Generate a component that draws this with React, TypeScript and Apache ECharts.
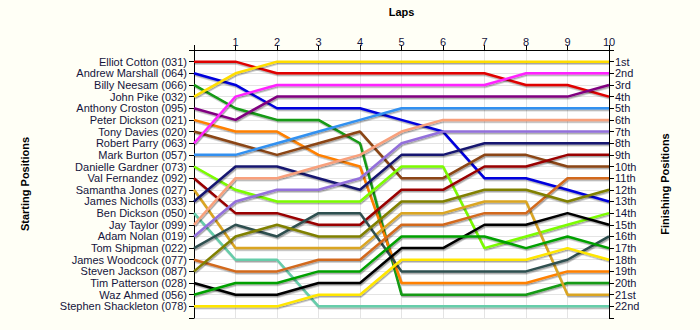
import React, { useEffect, useRef } from 'react';
import * as echarts from 'echarts';

const laps = [0, 1, 2, 3, 4, 5, 6, 7, 8, 9, 10];

const drivers = [
  'Elliot Cotton (031)',
  'Andrew Marshall (064)',
  'Billy Neesam (066)',
  'John Pike (032)',
  'Anthony Croston (095)',
  'Peter Dickson (021)',
  'Tony Davies (020)',
  'Robert Parry (063)',
  'Mark Burton (057)',
  'Danielle Gardner (073)',
  'Val Fernandez (092)',
  'Samantha Jones (027)',
  'James Nicholls (033)',
  'Ben Dickson (050)',
  'Jay Taylor (099)',
  'Adam Nolan (019)',
  'Tom Shipman (022)',
  'James Woodcock (077)',
  'Steven Jackson (087)',
  'Tim Patterson (028)',
  'Waz Ahmed (056)',
  'Stephen Shackleton (078)',
];

const finishLabels = [
  '1st', '2nd', '3rd', '4th', '5th', '6th', '7th', '8th', '9th', '10th', '11th',
  '12th', '13th', '14th', '15th', '16th', '17th', '18th', '19th', '20th', '21st', '22nd',
];

const colors = [
  '#e00000', '#0000dd', '#139a13', '#ffdd00', '#800080', '#ff8000', '#8b4513', '#ff22ff',
  '#3090f0', '#7cfc00', '#990000', '#daa520', '#191970', '#66cdaa', '#f8a07c', '#9370db',
  '#2f4f4f', '#d2691e', '#808000', '#000000', '#00a000', '#ffe600',
];

// positions at laps 0..10, one array per driver (starting order)
const elliotCotton = [1, 1, 2, 2, 2, 2, 2, 2, 3, 3, 4];
const andrewMarshall = [2, 3, 5, 5, 5, 6, 7, 11, 11, 12, 13];
const billyNeesam = [3, 5, 6, 6, 8, 21, 21, 21, 21, 20, 20];
const johnPike = [4, 2, 1, 1, 1, 1, 1, 1, 1, 1, 1];
const anthonyCroston = [5, 6, 4, 4, 4, 4, 4, 4, 4, 4, 3];
const peterDickson = [6, 7, 7, 9, 10, 20, 20, 20, 20, 19, 19];
const tonyDavies = [7, 8, 9, 8, 7, 11, 11, 9, 9, 10, 10];
const robertParry = [8, 4, 3, 3, 3, 3, 3, 3, 2, 2, 2];
const markBurton = [9, 9, 8, 7, 6, 5, 5, 5, 5, 5, 5];
const danielleGardner = [10, 12, 13, 13, 13, 10, 10, 17, 16, 15, 14];
const valFernandez = [11, 14, 14, 15, 15, 12, 12, 10, 10, 9, 9];
const samanthaJones = [12, 17, 17, 17, 17, 14, 14, 13, 13, 21, 21];
const jamesNicholls = [13, 10, 10, 11, 12, 9, 9, 8, 8, 8, 8];
const benDickson = [14, 18, 18, 22, 22, 22, 22, 22, 22, 22, 22];
const jayTaylor = [15, 11, 11, 10, 9, 7, 6, 6, 6, 6, 6];
const adamNolan = [16, 13, 12, 12, 11, 8, 7, 7, 7, 7, 7];
const tomShipman = [17, 15, 16, 14, 14, 19, 19, 19, 19, 18, 16];
const jamesWoodcock = [18, 19, 19, 18, 18, 15, 15, 14, 14, 11, 11];
const stevenJackson = [19, 16, 15, 16, 16, 13, 13, 12, 12, 13, 12];
const timPatterson = [20, 21, 21, 20, 20, 17, 17, 15, 15, 14, 15];
const wazAhmed = [21, 20, 20, 19, 19, 16, 16, 16, 17, 16, 17];
const stephenShackleton = [22, 22, 22, 21, 21, 18, 18, 18, 18, 17, 18];

const positions = [
  elliotCotton, andrewMarshall, billyNeesam, johnPike, anthonyCroston, peterDickson,
  tonyDavies, robertParry, markBurton, danielleGardner, valFernandez, samanthaJones,
  jamesNicholls, benDickson, jayTaylor, adamNolan, tomShipman, jamesWoodcock,
  stevenJackson, timPatterson, wazAhmed, stephenShackleton,
];

const textColor = '#14143c';
const font = 'Arial, "Liberation Sans", sans-serif';

export default function App() {
  const ref = useRef<HTMLDivElement>(null);
  useEffect(() => {
    if (!ref.current) return;
    const chart = echarts.init(ref.current, undefined, { renderer: 'svg' });
    const yCommon = {
      type: 'value' as const,
      min: 0,
      max: 23,
      interval: 1,
      inverse: true,
      axisLine: { show: true, lineStyle: { color: '#000', width: 1 } },
      axisTick: { show: true, length: 5, lineStyle: { color: '#000' } },
      nameLocation: 'middle' as const,
      nameTextStyle: { fontFamily: font, fontWeight: 'bold' as const, fontSize: 11, color: '#000' },
    };
    chart.setOption({
      animation: false,
      backgroundColor: '#fffff6',
      grid: {
        left: 194,
        right: 91,
        top: 50,
        bottom: 12,
        show: true,
        backgroundColor: '#ffffff',
        borderWidth: 0,
      },
      xAxis: {
        type: 'value',
        position: 'top',
        min: 0,
        max: 10,
        interval: 1,
        name: 'Laps',
        nameLocation: 'middle',
        nameGap: 33,
        nameTextStyle: { fontFamily: font, fontWeight: 'bold', fontSize: 11, color: '#000' },
        axisLine: { show: true, onZero: false, lineStyle: { color: '#000', width: 1 } },
        axisTick: { show: true, length: 5, lineStyle: { color: '#000' } },
        axisLabel: {
          fontFamily: font,
          fontSize: 11,
          color: textColor,
          margin: 3,
          formatter: (v: number) => (v === 0 ? '' : String(laps[v])),
        },
        splitLine: { show: true, lineStyle: { color: '#e4e4e4', width: 1 } },
      },
      yAxis: [
        {
          ...yCommon,
          position: 'left',
          name: 'Starting Positions',
          nameGap: 164,
          axisLabel: {
            fontFamily: font,
            fontSize: 11,
            color: textColor,
            margin: 7,
            formatter: (v: number) => (v >= 1 && v <= 22 ? drivers[v - 1] : ''),
          },
          splitLine: { show: true, lineStyle: { color: '#e4e4e4', width: 1 } },
        },
        {
          ...yCommon,
          position: 'right',
          name: 'Finishing Positions',
          nameGap: 50,
          axisLabel: {
            fontFamily: font,
            fontSize: 11,
            color: textColor,
            margin: 6,
            formatter: (v: number) => (v >= 1 && v <= 22 ? finishLabels[v - 1] : ''),
          },
          splitLine: { show: false },
        },
      ],
      series: positions.map((p, i) => ({
        type: 'line',
        name: drivers[i],
        yAxisIndex: 0,
        data: laps.map((l, k) => [l, p[k]]),
        symbol: 'none',
        smooth: false,
        lineStyle: {
          color: colors[i],
          width: 2.5,
          shadowColor: 'rgba(0,0,0,0.35)',
          shadowBlur: 1,
          shadowOffsetX: 1,
          shadowOffsetY: 1.5,
        },
        itemStyle: { color: colors[i] },
      })),
    });
    return () => chart.dispose();
  }, []);
  return (
    <div
      ref={ref}
      style={{ position: 'fixed', left: 0, top: 0, width: 700, height: 330 }}
    />
  );
}
